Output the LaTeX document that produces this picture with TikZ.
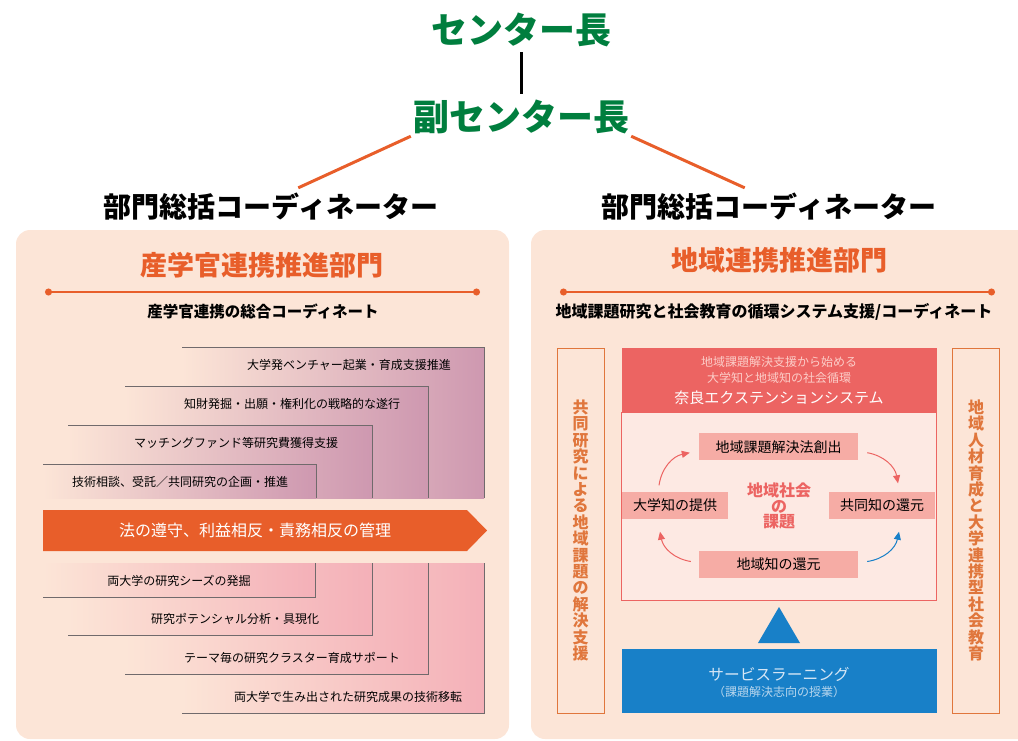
\documentclass[tikz,border=0pt]{standalone}
\usepackage{fontspec}
\setmainfont{Noto Sans CJK JP}
\usepackage{tikz}
\usetikzlibrary{arrows.meta}

\definecolor{leadgreen}{RGB}{0,126,62}
\definecolor{deptorange}{RGB}{232,94,42}
\definecolor{panelbg}{RGB}{252,229,215}
\definecolor{edgegray}{RGB}{112,106,108}
\definecolor{mauve}{RGB}{206,152,176}
\definecolor{rose}{RGB}{244,176,184}
\definecolor{coral}{RGB}{236,100,98}
\definecolor{salmon}{RGB}{246,172,165}
\definecolor{cyclebg}{RGB}{253,233,227}
\definecolor{pinklight}{RGB}{252,205,200}
\definecolor{svblue}{RGB}{24,128,200}
\definecolor{svtext}{RGB}{214,230,245}
\definecolor{boxorange}{RGB}{224,118,60}

\begin{document}
\begin{tikzpicture}[x=1pt,y=1pt,
  chief/.style={font=\fontsize{36}{40}\selectfont\bfseries, text=leadgreen, inner sep=2pt},
  coord/.style={font=\fontsize{28}{32}\selectfont\bfseries, inner sep=2pt},
  depttitle/.style={font=\fontsize{27}{30}\selectfont\bfseries, text=deptorange},
  deptsub/.style={font=\fontsize{15.5}{18}\selectfont\bfseries},
  dotline/.style={deptorange, line width=1.3pt, {Circle[length=7pt]}-{Circle[length=7pt]}},
  item/.style={font=\fontsize{12}{14}\selectfont, inner sep=0pt},
  edge/.style={edgegray, line width=0.9pt},
  sidebox/.style={draw=boxorange, line width=1pt, minimum width=47pt, minimum height=365pt},
  sidetext/.style={font=\fontsize{16}{16.4}\selectfont\bfseries, text=boxorange, align=center},
  cyclebox/.style={fill=salmon, minimum height=27pt, inner sep=0pt, font=\fontsize{14}{16}\selectfont},
  cyclearrow/.style={draw=coral, line width=1pt, -{Triangle[length=8pt,width=7pt]}},
]
\useasboundingbox (0,0) rectangle (1018,-740);

% heads
\node[chief] (chief) at (521,-30) {センター長};
\node[chief] (vice) at (521,-117) {副センター長};
\node[coord] (coordL) at (271,-207) {部門総括コーディネーター};
\node[coord] (coordR) at (769,-207) {部門総括コーディネーター};
\draw[line width=3pt, shorten <=3pt, shorten >=4pt] (chief.south) -- (vice.north);
\draw[deptorange, line width=3pt, shorten >=8pt] (vice.south west) -- ([xshift=20pt]coordL.north);
\draw[deptorange, line width=3pt, shorten >=8pt] (vice.south east) -- ([xshift=-17pt]coordR.north);

% panels
\fill[panelbg, rounded corners=14pt] (16,-230) rectangle (509,-739);
\fill[panelbg, rounded corners=14pt] (531,-230) rectangle (1040,-739);

% left panel
\node[depttitle] (deptL) at (262,-265) {産学官連携推進部門};
\coordinate (lineLa) at (45,-292);
\coordinate (lineLb) at (480,-292);
\draw[dotline] (lineLa) -- (lineLb);
\node[deptsub] (subL) at (263,-311) {産学官連携の総合コーディネート};

\shade[left color=panelbg, right color=mauve] (182,-347) rectangle (484,-498);
\draw[edge] (182,-347) -- (484,-347) -- (484,-498);
\shade[left color=panelbg, right color=mauve] (125,-386) rectangle (428,-498);
\draw[edge] (125,-386) -- (428,-386) -- (428,-498);
\shade[left color=panelbg, right color=mauve] (68,-425) rectangle (372,-498);
\draw[edge] (68,-425) -- (372,-425) -- (372,-498);
\shade[left color=panelbg, right color=mauve] (43,-464) rectangle (316,-498);
\draw[edge] (43,-464) -- (316,-464) -- (316,-498);
\node[item] (upA) at (349,-365) {大学発ベンチャー起業・育成支援推進};
\node[item] (upB) at (292,-404) {知財発掘・出願・権利化の戦略的な遂行};
\node[item] (upC) at (236,-443) {マッチングファンド等研究費獲得支援};
\node[item] (upD) at (180,-482) {技術相談、受託／共同研究の企画・推進};

\shade[left color=panelbg, right color=rose] (182,-563) rectangle (484,-713);
\draw[edge] (484,-563) -- (484,-713) -- (182,-713);
\shade[left color=panelbg, right color=rose] (125,-563) rectangle (428,-674);
\draw[edge] (428,-563) -- (428,-674) -- (125,-674);
\shade[left color=panelbg, right color=rose] (68,-563) rectangle (372,-635);
\draw[edge] (372,-563) -- (372,-635) -- (68,-635);
\shade[left color=panelbg, right color=rose] (43,-563) rectangle (315,-597);
\draw[edge] (315,-563) -- (315,-597) -- (43,-597);
\node[item] (lowA) at (179,-581) {両大学の研究シーズの発掘};
\node[item] (lowB) at (235,-619) {研究ポテンシャル分析・具現化};
\node[item] (lowC) at (292,-658) {テーマ毎の研究クラスター育成サポート};
\node[item] (lowD) at (348,-697) {両大学で生み出された研究成果の技術移転};

\fill[deptorange] (43,-510) -- (467,-510) -- (487,-530.5) -- (467,-551) -- (43,-551) -- cycle;
\node[font=\fontsize{16}{18}\selectfont, text=white] (law) at (255,-530.5) {法の遵守、利益相反・責務相反の管理};

% right panel
\node[depttitle] (deptR) at (779,-260) {地域連携推進部門};
\coordinate (lineRa) at (560,-292);
\coordinate (lineRb) at (995,-292);
\draw[dotline] (lineRa) -- (lineRb);
\node[deptsub, font=\fontsize{16}{18}\selectfont\bfseries] (subR) at (774,-312) {地域課題研究と社会教育の循環システム支援/コーディネート};

\node[sidebox] (sideL) at (580.5,-530.5) {};
\node[sidetext] (sideLtext) at (580.5,-530.5) {共\\同\\研\\究\\に\\よ\\る\\地\\域\\課\\題\\の\\解\\決\\支\\援};
\node[sidebox] (sideR) at (976,-530.5) {};
\node[sidetext] (sideRtext) at (976,-530.5) {地\\域\\人\\材\\育\\成\\と\\大\\学\\連\\携\\型\\社\\会\\教\\育};

\node[fill=coral, minimum width=315pt, minimum height=64pt, inner sep=0pt] (nara) at (779,-379.7) {};
\node[font=\fontsize{12}{14}\selectfont, text=pinklight, inner sep=0pt] (naraA) at (779,-361.7) {地域課題解決支援から始める};
\node[font=\fontsize{12}{14}\selectfont, text=pinklight, inner sep=0pt] (naraB) at (779,-378) {大学知と地域知の社会循環};
\node[font=\fontsize{15}{17}\selectfont, text=white, inner sep=0pt] (naraC) at (779,-398) {奈良エクステンションシステム};

\node[draw=coral, fill=cyclebg, line width=1pt, minimum width=315pt, minimum height=188pt, inner sep=0pt] (cycle) at (779,-506) {};
\node[cyclebox, minimum width=159pt] (soshutsu) at (778.5,-446.7) {地域課題解決法創出};
\node[cyclebox, minimum width=106pt] (teikyo) at (675,-505) {大学知の提供};
\node[cyclebox, minimum width=106pt] (kangen) at (882,-505) {共同知の還元};
\node[cyclebox, minimum width=159pt] (chiikichi) at (778.5,-564.5) {地域知の還元};
\node[font=\fontsize{16}{15.8}\selectfont\bfseries, text=coral, align=center] (kadai) at (779,-506) {地域社会\\の\\課題};

\draw[cyclearrow] ([xshift=-16pt,yshift=6pt]teikyo.north) to[bend left=35] ([xshift=-9pt,yshift=-6pt]soshutsu.west);
\draw[cyclearrow] ([xshift=9pt,yshift=-6pt]soshutsu.east) to[bend left=35] ([xshift=16pt,yshift=8pt]kangen.north);
\draw[cyclearrow] ([xshift=-8pt,yshift=3pt]chiikichi.west) to[bend left=35] ([xshift=-15pt,yshift=-13pt]teikyo.south);
\draw[cyclearrow, draw=svblue] ([xshift=9pt,yshift=3pt]chiikichi.east) to[bend right=35] ([xshift=17pt,yshift=-13pt]kangen.south);

\fill[svblue] (779,-607) -- (800,-643) -- (758,-643) -- cycle;
\node[fill=svblue, minimum width=315pt, minimum height=64pt, inner sep=0pt] (service) at (779,-681) {};
\node[font=\fontsize{15.7}{18}\selectfont, text=svtext, inner sep=0pt] (serviceA) at (779,-674) {サービスラーニング};
\node[font=\fontsize{12}{14}\selectfont, text=svtext!85!svblue, inner sep=0pt] (serviceB) at (779,-692) {（課題解決志向の授業）};
\end{tikzpicture}
\end{document}
